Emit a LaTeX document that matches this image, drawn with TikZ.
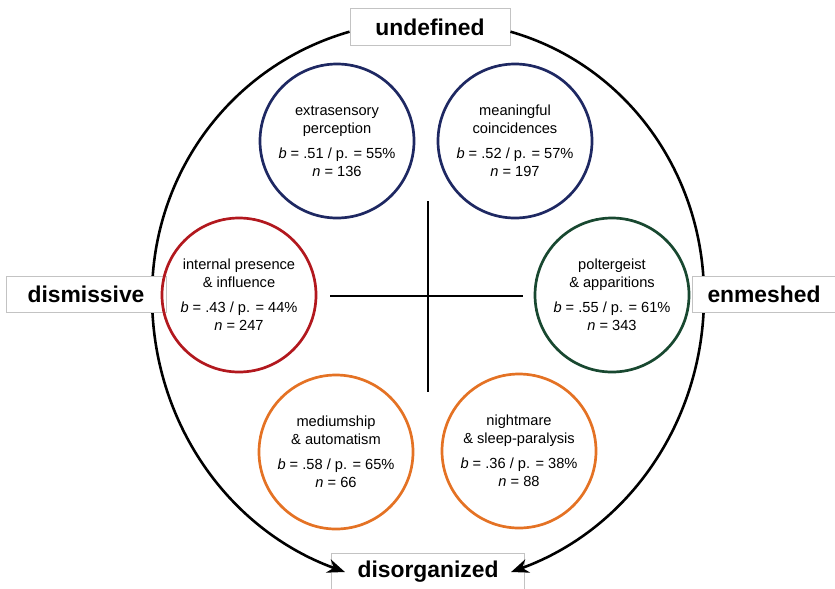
\documentclass[tikz,border=0pt]{standalone}
\usepackage{fontspec}
\setmainfont{Liberation Sans}
\usetikzlibrary{arrows.meta}
\definecolor{navy}{RGB}{30,40,98}
\definecolor{rust}{RGB}{178,24,30}
\definecolor{forest}{RGB}{24,72,48}
\definecolor{amber}{RGB}{228,114,36}
\definecolor{frame}{RGB}{195,195,195}

\begin{document}
\begin{tikzpicture}[x=0.3mm, y=-0.3mm,
    trait/.style={circle, draw, line width=2.3pt, minimum size=4.62cm, inner sep=0pt, align=center, font=\fontsize{12.5}{15.4}\selectfont},
    pole/.style={draw=frame, fill=white, line width=0.8pt, inner sep=0pt, font=\fontsize{19.5}{22}\selectfont\bfseries},
    flow/.style={line width=2.2pt, -{Stealth[length=15pt, width=12pt]}}]

    \useasboundingbox (0,0) rectangle (835,588);

    \node[pole, minimum width=4.8cm, minimum height=1.11cm] (undef) at (430,27) {undefined};
    \node[pole, minimum width=5.8cm, minimum height=1.14cm] (disorg) at (428,572) {disorganized};

    \coordinate (lft) at (152,296);
    \coordinate (rgt) at (704,296);

    \draw[flow] ([yshift=-4pt]undef.west) to[out=196, in=90, looseness=0.95] (lft) to[out=-90, in=160, looseness=0.95] ([xshift=12pt]disorg.west);
    \draw[flow] ([yshift=-4pt]undef.east) to[out=-16, in=90, looseness=0.95] (rgt) to[out=-90, in=20, looseness=0.95] ([xshift=-12pt]disorg.east);

    \node[pole, minimum width=4.8cm, minimum height=1.08cm] (dism) at (86,294) {dismissive};
    \node[pole, minimum width=4.32cm, minimum height=1.08cm] (enm) at (764,294) {enmeshed};

    % cross
    \draw[line width=2.5pt] (428,201) -- (428,392);
    \draw[line width=2.5pt] (330,296) -- (523,296);

    \node[trait, draw=navy] (esp) at (337,141) {extrasensory\\perception\\[6pt]\textit{b} = .51 / p. = 55\%\\\textit{n} = 136};
    \node[trait, draw=navy] (coinc) at (515,141) {meaningful\\coincidences\\[6pt]\textit{b} = .52 / p. = 57\%\\\textit{n} = 197};

    \node[trait, draw=rust] (presence) at (239,295) {internal presence\\\& influence\\[6pt]\textit{b} = .43 / p. = 44\%\\\textit{n} = 247};
    \node[trait, draw=forest] (polter) at (612,295) {poltergeist\\\& apparitions\\[6pt]\textit{b} = .55 / p. = 61\%\\\textit{n} = 343};

    \node[trait, draw=amber] (medium) at (336,452) {mediumship\\\& automatism\\[6pt]\textit{b} = .58 / p. = 65\%\\\textit{n} = 66};
    \node[trait, draw=amber] (nightmare) at (519,451) {nightmare\\\& sleep-paralysis\\[6pt]\textit{b} = .36 / p. = 38\%\\\textit{n} = 88};

\end{tikzpicture}
\end{document}
